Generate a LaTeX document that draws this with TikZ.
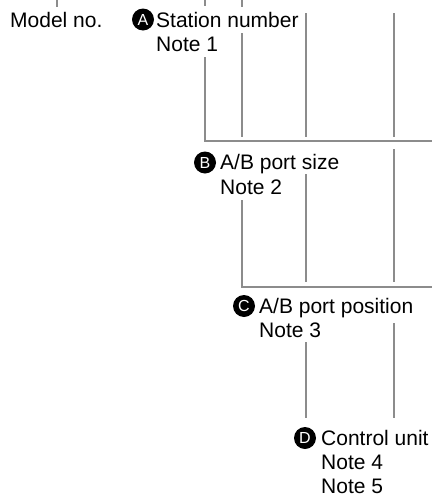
\documentclass[tikz,border=0pt]{standalone}
\usepackage{fontspec}
\setmainfont{Liberation Sans}
\definecolor{leadgray}{RGB}{140,140,140}

\begin{document}
\begin{tikzpicture}[x=1pt,y=-1pt,
                    every node/.style={font=\fontsize{21}{24}\selectfont,
                      inner sep=0pt,anchor=base west},
                    lead/.style={draw=leadgray,line width=2pt},
                    badge/.style={circle,fill=black,text=white,anchor=center,
                      minimum size=22pt,inner sep=0pt,
                      font=\fontsize{16}{16}\selectfont}]
    \useasboundingbox (0,0) rectangle (432,501);
    % leader lines
    \foreach \x/\ya/\yb in {57/0/7,205/0/6,242/0/7,242/33/137,
                             306/13/137,306/174/282,306/342/418,
                             394/13/137,394/149/282,394/323/418}
      \draw[lead] (\x,\ya)--(\x,\yb);
    \draw[lead] (205,57)--(205,141)--(432,141);
    \draw[lead] (242,200)--(242,287)--(432,287);
    % labels
    \node (model) at (10,27) {Model no.};
    \node[badge] (badgeA) at (143,19.5) {A};
    \node (station) at (156,27) {Station number};
    \node (noteA) at (156,51) {Note 1};
    \node[badge] (badgeB) at (205,162.5) {B};
    \node (portsize) at (220,169) {A/B port size};
    \node (noteB) at (220,194) {Note 2};
    \node[badge] (badgeC) at (244,306) {C};
    \node (portpos) at (259,313) {A/B port position};
    \node (noteC) at (259,337) {Note 3};
    \node[badge] (badgeD) at (305,438) {D};
    \node (control) at (321,445) {Control unit};
    \node (noteD) at (321,469) {Note 4};
    \node (noteE) at (321,493) {Note 5};
  \end{tikzpicture}
\end{document}
